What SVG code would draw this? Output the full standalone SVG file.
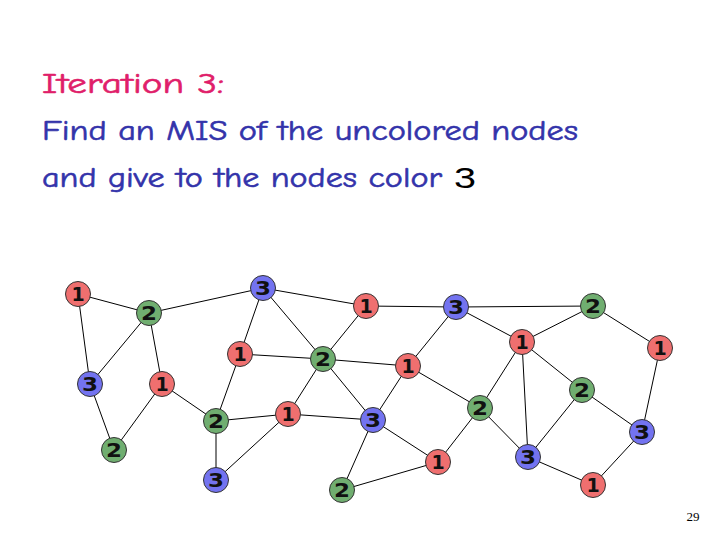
<svg xmlns="http://www.w3.org/2000/svg" width="720" height="540" viewBox="0 0 720 540">
<style>
.t{font-family:"Comic Neue","DejaVu Sans","Liberation Sans",sans-serif;font-size:29px;stroke-width:0.6}
.e line{stroke:#000;stroke-width:1}
.n circle{stroke:#333;stroke-width:1}
.r circle{fill:#EF6F6F}
.g circle{fill:#70AE70}
.b circle{fill:#7373F0}
.n text{font-family:"DejaVu Sans","Liberation Sans",sans-serif;font-weight:bold;font-size:19px;fill:#111;text-anchor:middle}
</style>
<rect width="720" height="540" fill="#fff"/>
<text class="t" x="42" y="93" fill="#E01E6A" stroke="#E01E6A" textLength="182" lengthAdjust="spacingAndGlyphs">Iteration 3:</text>
<text class="t" x="42" y="140" fill="#3333AA" stroke="#3333AA" textLength="536" lengthAdjust="spacingAndGlyphs">Find an MIS of the uncolored nodes</text>
<text class="t" x="42" y="187" fill="#3333AA" stroke="#3333AA" textLength="400" lengthAdjust="spacingAndGlyphs">and give to the nodes color</text>
<text x="454" y="188" font-family="Liberation Sans,Arial,sans-serif" font-size="30" fill="#000" textLength="22" lengthAdjust="spacingAndGlyphs">3</text>
<g id="connectors" class="e">
<line x1="78" y1="294" x2="149" y2="313"/>
<line x1="78" y1="294" x2="90" y2="384"/>
<line x1="149" y1="313" x2="90" y2="384"/>
<line x1="149" y1="313" x2="263" y2="288"/>
<line x1="149" y1="313" x2="162" y2="384"/>
<line x1="90" y1="384" x2="114" y2="450"/>
<line x1="162" y1="384" x2="114" y2="450"/>
<line x1="162" y1="384" x2="216" y2="421"/>
<line x1="263" y1="288" x2="240" y2="354"/>
<line x1="263" y1="288" x2="366" y2="306"/>
<line x1="263" y1="288" x2="323" y2="359"/>
<line x1="240" y1="354" x2="323" y2="359"/>
<line x1="240" y1="354" x2="216" y2="421"/>
<line x1="216" y1="421" x2="288" y2="414"/>
<line x1="216" y1="421" x2="216" y2="480"/>
<line x1="288" y1="414" x2="216" y2="480"/>
<line x1="288" y1="414" x2="323" y2="359"/>
<line x1="288" y1="414" x2="373" y2="420"/>
<line x1="323" y1="359" x2="366" y2="306"/>
<line x1="323" y1="359" x2="408" y2="366"/>
<line x1="323" y1="359" x2="373" y2="420"/>
<line x1="366" y1="306" x2="456" y2="307"/>
<line x1="456" y1="307" x2="408" y2="366"/>
<line x1="408" y1="366" x2="373" y2="420"/>
<line x1="408" y1="366" x2="480" y2="408"/>
<line x1="373" y1="420" x2="438" y2="462"/>
<line x1="373" y1="420" x2="342" y2="490"/>
<line x1="342" y1="490" x2="438" y2="462"/>
<line x1="438" y1="462" x2="480" y2="408"/>
<line x1="456" y1="307" x2="593" y2="306"/>
<line x1="456" y1="307" x2="522" y2="342"/>
<line x1="522" y1="342" x2="593" y2="306"/>
<line x1="593" y1="306" x2="660" y2="348"/>
<line x1="522" y1="342" x2="480" y2="408"/>
<line x1="522" y1="342" x2="528" y2="457"/>
<line x1="522" y1="342" x2="582" y2="390"/>
<line x1="660" y1="348" x2="642" y2="432"/>
<line x1="582" y1="390" x2="642" y2="432"/>
<line x1="582" y1="390" x2="528" y2="457"/>
<line x1="480" y1="408" x2="528" y2="457"/>
<line x1="528" y1="457" x2="593" y2="485"/>
<line x1="642" y1="432" x2="593" y2="485"/>
</g>
<g id="n1" class="n r"><circle cx="78" cy="294" r="12.5"/><text x="78" y="301">1</text></g>
<g id="n2" class="n g"><circle cx="149" cy="313" r="12.5"/><text x="149" y="320" textLength="16" lengthAdjust="spacingAndGlyphs">2</text></g>
<g id="n3" class="n b"><circle cx="263" cy="288" r="12.5"/><text x="263" y="295" textLength="16" lengthAdjust="spacingAndGlyphs">3</text></g>
<g id="n4" class="n r"><circle cx="366" cy="306" r="12.5"/><text x="366" y="313">1</text></g>
<g id="n5" class="n b"><circle cx="456" cy="307" r="12.5"/><text x="456" y="314" textLength="16" lengthAdjust="spacingAndGlyphs">3</text></g>
<g id="n6" class="n g"><circle cx="593" cy="306" r="12.5"/><text x="593" y="313" textLength="16" lengthAdjust="spacingAndGlyphs">2</text></g>
<g id="n7" class="n r"><circle cx="240" cy="354" r="12.5"/><text x="240" y="361">1</text></g>
<g id="n8" class="n g"><circle cx="323" cy="359" r="12.5"/><text x="323" y="366" textLength="16" lengthAdjust="spacingAndGlyphs">2</text></g>
<g id="n9" class="n r"><circle cx="522" cy="342" r="12.5"/><text x="522" y="349">1</text></g>
<g id="n10" class="n r"><circle cx="660" cy="348" r="12.5"/><text x="660" y="355">1</text></g>
<g id="n11" class="n b"><circle cx="90" cy="384" r="12.5"/><text x="90" y="391" textLength="16" lengthAdjust="spacingAndGlyphs">3</text></g>
<g id="n12" class="n r"><circle cx="162" cy="384" r="12.5"/><text x="162" y="391">1</text></g>
<g id="n13" class="n r"><circle cx="408" cy="366" r="12.5"/><text x="408" y="373">1</text></g>
<g id="n14" class="n g"><circle cx="582" cy="390" r="12.5"/><text x="582" y="397" textLength="16" lengthAdjust="spacingAndGlyphs">2</text></g>
<g id="n15" class="n g"><circle cx="216" cy="421" r="12.5"/><text x="216" y="428" textLength="16" lengthAdjust="spacingAndGlyphs">2</text></g>
<g id="n16" class="n r"><circle cx="288" cy="414" r="12.5"/><text x="288" y="421">1</text></g>
<g id="n17" class="n b"><circle cx="373" cy="420" r="12.5"/><text x="373" y="427" textLength="16" lengthAdjust="spacingAndGlyphs">3</text></g>
<g id="n18" class="n g"><circle cx="480" cy="408" r="12.5"/><text x="480" y="415" textLength="16" lengthAdjust="spacingAndGlyphs">2</text></g>
<g id="n19" class="n b"><circle cx="642" cy="432" r="12.5"/><text x="642" y="439" textLength="16" lengthAdjust="spacingAndGlyphs">3</text></g>
<g id="n20" class="n g"><circle cx="114" cy="450" r="12.5"/><text x="114" y="457" textLength="16" lengthAdjust="spacingAndGlyphs">2</text></g>
<g id="n21" class="n r"><circle cx="438" cy="462" r="12.5"/><text x="438" y="469">1</text></g>
<g id="n22" class="n b"><circle cx="528" cy="457" r="12.5"/><text x="528" y="464" textLength="16" lengthAdjust="spacingAndGlyphs">3</text></g>
<g id="n23" class="n b"><circle cx="216" cy="480" r="12.5"/><text x="216" y="487" textLength="16" lengthAdjust="spacingAndGlyphs">3</text></g>
<g id="n24" class="n g"><circle cx="342" cy="490" r="12.5"/><text x="342" y="497" textLength="16" lengthAdjust="spacingAndGlyphs">2</text></g>
<g id="n25" class="n r"><circle cx="593" cy="485" r="12.5"/><text x="593" y="492">1</text></g>
<text x="693" y="521" font-family="Liberation Serif,serif" font-size="13" fill="#000" text-anchor="middle">29</text>
</svg>
